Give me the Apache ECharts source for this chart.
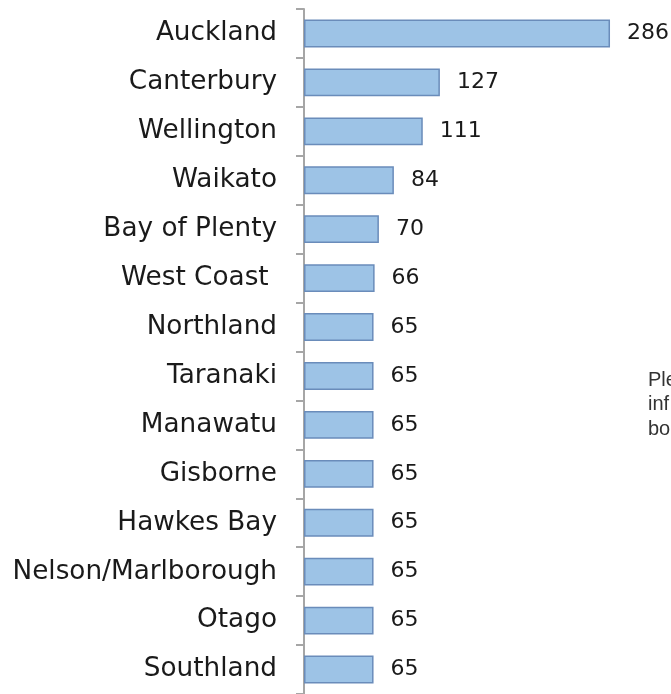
<!DOCTYPE html>
<html>
<head>
<meta charset="utf-8">
<style>
  html, body { margin: 0; padding: 0; background: #ffffff; }
  #chart { width: 671px; height: 694px; }
</style>
<script src="https://cdn.jsdelivr.net/npm/echarts@6/dist/echarts.min.js"></script>
</head>
<body>
<div id="chart"></div>
<script>
// Regions, listed top to bottom
const regions = [
  'Auckland', 'Canterbury', 'Wellington', 'Waikato', 'Bay of Plenty',
  'West Coast ', 'Northland', 'Taranaki', 'Manawatu', 'Gisborne',
  'Hawkes Bay', 'Nelson/Marlborough', 'Otago', 'Southland'
];
const counts = [286, 127, 111, 84, 70, 66, 65, 65, 65, 65, 65, 65, 65, 65];

// Side note text lines (partly outside the visible area)
const noteLines = ['Ple', 'inf', 'bo'];

const chart = echarts.init(document.getElementById('chart'));

const labelFont = 'DejaVu Sans, sans-serif';

chart.setOption({
  animation: false,
  backgroundColor: '#ffffff',
  grid: { left: 304, top: 9, width: 321, height: 686, containLabel: false },
  xAxis: {
    type: 'value',
    min: 0,
    max: 300,
    show: false
  },
  yAxis: {
    type: 'category',
    inverse: true,
    data: regions,
    axisLine: { show: true, lineStyle: { color: '#a6a6a6', width: 2 } },
    axisTick: { show: true, length: 8, lineStyle: { color: '#a6a6a6', width: 2 } },
    axisLabel: {
      margin: 27,
      color: '#1a1a1a',
      fontFamily: labelFont,
      fontSize: 26.3
    },
    splitLine: { show: false }
  },
  series: [{
    type: 'bar',
    data: counts,
    barCategoryGap: '43%',
    itemStyle: {
      color: '#9dc3e6',
      borderColor: '#6a8cba',
      borderWidth: 1.5
    },
    label: {
      show: true,
      position: 'right',
      distance: 17,
      color: '#1a1a1a',
      fontFamily: labelFont,
      fontSize: 22
    }
  }],
  graphic: noteLines.map((t, i) => ({
    type: 'text',
    left: 648,
    top: 370 + i * 24.5,
    style: {
      text: t,
      fill: '#333333',
      font: '20px "Liberation Sans", Arial, sans-serif'
    }
  }))
});
</script>
</body>
</html>
